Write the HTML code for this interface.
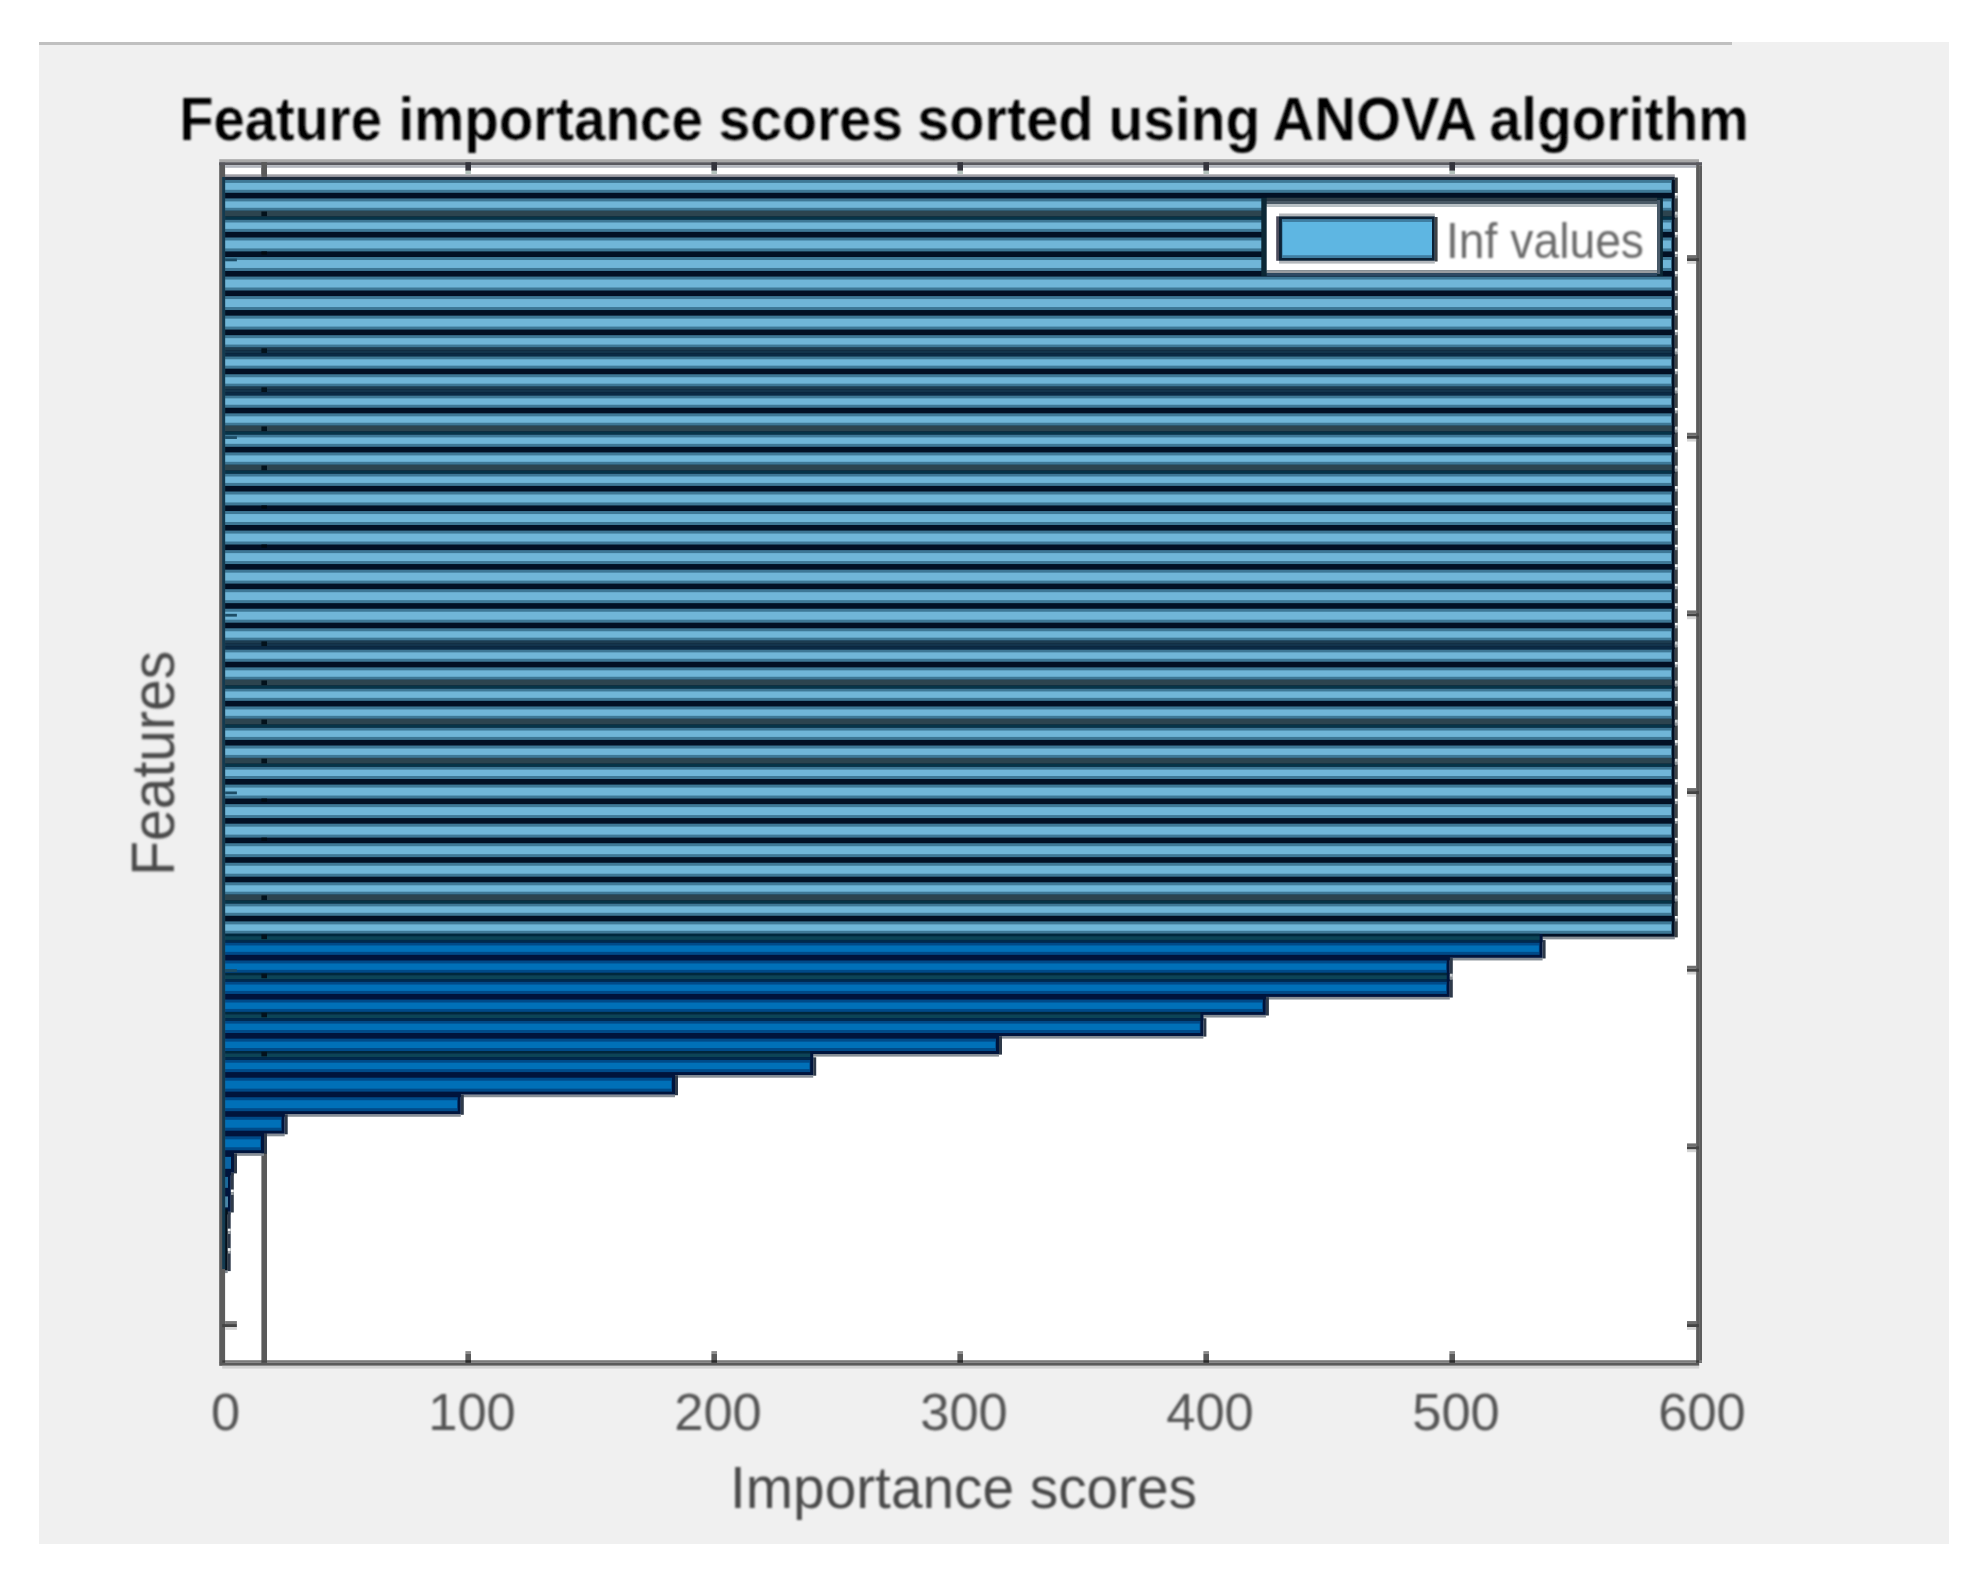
<!DOCTYPE html>
<html><head><meta charset="utf-8"><title>Feature importance</title>
<style>html,body{margin:0;padding:0;background:#fff}svg{display:block}
text{font-family:"Liberation Sans",sans-serif}</style></head><body>
<svg width="1984" height="1596" viewBox="0 0 1984 1596">
<defs>
<filter id="b" x="-2%" y="-2%" width="104%" height="104%"><feGaussianBlur stdDeviation="0.8"/></filter>
<filter id="t" x="-5%" y="-20%" width="110%" height="140%"><feGaussianBlur stdDeviation="0.8"/></filter>
</defs>
<rect x="0" y="0" width="1984" height="1596" fill="#ffffff"/>
<rect x="39" y="42" width="1910" height="1502" fill="#f0f0f0"/>
<rect x="39" y="42" width="1693" height="3" fill="#c0c0c0"/>
<g id="plot">
<rect x="222.00" y="162.50" width="1477.00" height="1200.50" fill="#ffffff"/>
<rect x="261.40" y="162.50" width="5.60" height="1200.50" fill="#5a5a5a"/>
</g>
<g id="bars">
<rect x="1673.80" y="195.80" width="1.00" height="2.60" fill="#868e96"/>
<rect x="222.00" y="174.30" width="1452.80" height="2.80" fill="#a0a0a6"/>
<rect x="1674.80" y="177.50" width="3.00" height="18.90" fill="#3c4246"/>
<rect x="222.00" y="176.90" width="1452.80" height="18.90" fill="#1e2c3c"/>
<rect x="222.00" y="179.90" width="1452.80" height="15.90" fill="#021024"/>
<rect x="1673.80" y="213.79" width="1.00" height="2.60" fill="#868e96"/>
<rect x="1674.80" y="196.00" width="3.00" height="18.39" fill="#3c4246"/>
<rect x="222.00" y="195.40" width="1452.80" height="18.39" fill="#021024"/>
<rect x="1673.80" y="234.88" width="1.00" height="2.60" fill="#868e96"/>
<rect x="1674.80" y="217.09" width="3.00" height="18.39" fill="#3c4246"/>
<rect x="222.00" y="216.49" width="1452.80" height="18.39" fill="#021024"/>
<rect x="1673.80" y="254.42" width="1.00" height="2.60" fill="#868e96"/>
<rect x="1674.80" y="235.08" width="3.00" height="19.94" fill="#3c4246"/>
<rect x="222.00" y="234.48" width="1452.80" height="19.94" fill="#021024"/>
<rect x="1673.80" y="273.96" width="1.00" height="2.60" fill="#868e96"/>
<rect x="1674.80" y="254.62" width="3.00" height="19.94" fill="#3c4246"/>
<rect x="222.00" y="254.02" width="1452.80" height="19.94" fill="#021024"/>
<rect x="1673.80" y="293.50" width="1.00" height="2.60" fill="#868e96"/>
<rect x="1674.80" y="274.16" width="3.00" height="19.94" fill="#3c4246"/>
<rect x="222.00" y="273.56" width="1452.80" height="19.94" fill="#021024"/>
<rect x="1673.80" y="313.04" width="1.00" height="2.60" fill="#868e96"/>
<rect x="1674.80" y="293.70" width="3.00" height="19.94" fill="#3c4246"/>
<rect x="222.00" y="293.10" width="1452.80" height="19.94" fill="#021024"/>
<rect x="1673.80" y="332.58" width="1.00" height="2.60" fill="#868e96"/>
<rect x="1674.80" y="313.24" width="3.00" height="19.94" fill="#3c4246"/>
<rect x="222.00" y="312.64" width="1452.80" height="19.94" fill="#021024"/>
<rect x="1673.80" y="350.57" width="1.00" height="2.60" fill="#868e96"/>
<rect x="1674.80" y="332.78" width="3.00" height="18.39" fill="#3c4246"/>
<rect x="222.00" y="332.18" width="1452.80" height="18.39" fill="#021024"/>
<rect x="1673.80" y="371.66" width="1.00" height="2.60" fill="#868e96"/>
<rect x="1674.80" y="353.87" width="3.00" height="18.39" fill="#3c4246"/>
<rect x="222.00" y="353.27" width="1452.80" height="18.39" fill="#021024"/>
<rect x="1673.80" y="389.65" width="1.00" height="2.60" fill="#868e96"/>
<rect x="1674.80" y="371.86" width="3.00" height="18.39" fill="#3c4246"/>
<rect x="222.00" y="371.26" width="1452.80" height="18.39" fill="#021024"/>
<rect x="1673.80" y="410.74" width="1.00" height="2.60" fill="#868e96"/>
<rect x="1674.80" y="392.95" width="3.00" height="18.39" fill="#3c4246"/>
<rect x="222.00" y="392.35" width="1452.80" height="18.39" fill="#021024"/>
<rect x="1673.80" y="428.73" width="1.00" height="2.60" fill="#868e96"/>
<rect x="1674.80" y="410.94" width="3.00" height="18.39" fill="#3c4246"/>
<rect x="222.00" y="410.34" width="1452.80" height="18.39" fill="#021024"/>
<rect x="1673.80" y="449.82" width="1.00" height="2.60" fill="#868e96"/>
<rect x="1674.80" y="432.03" width="3.00" height="18.39" fill="#3c4246"/>
<rect x="222.00" y="431.43" width="1452.80" height="18.39" fill="#021024"/>
<rect x="1673.80" y="467.81" width="1.00" height="2.60" fill="#868e96"/>
<rect x="1674.80" y="450.02" width="3.00" height="18.39" fill="#3c4246"/>
<rect x="222.00" y="449.42" width="1452.80" height="18.39" fill="#021024"/>
<rect x="1673.80" y="488.90" width="1.00" height="2.60" fill="#868e96"/>
<rect x="1674.80" y="471.11" width="3.00" height="18.39" fill="#3c4246"/>
<rect x="222.00" y="470.51" width="1452.80" height="18.39" fill="#021024"/>
<rect x="1673.80" y="508.44" width="1.00" height="2.60" fill="#868e96"/>
<rect x="1674.80" y="489.10" width="3.00" height="19.94" fill="#3c4246"/>
<rect x="222.00" y="488.50" width="1452.80" height="19.94" fill="#021024"/>
<rect x="1673.80" y="527.98" width="1.00" height="2.60" fill="#868e96"/>
<rect x="1674.80" y="508.64" width="3.00" height="19.94" fill="#3c4246"/>
<rect x="222.00" y="508.04" width="1452.80" height="19.94" fill="#021024"/>
<rect x="1673.80" y="547.52" width="1.00" height="2.60" fill="#868e96"/>
<rect x="1674.80" y="528.18" width="3.00" height="19.94" fill="#3c4246"/>
<rect x="222.00" y="527.58" width="1452.80" height="19.94" fill="#021024"/>
<rect x="1673.80" y="567.06" width="1.00" height="2.60" fill="#868e96"/>
<rect x="1674.80" y="547.72" width="3.00" height="19.94" fill="#3c4246"/>
<rect x="222.00" y="547.12" width="1452.80" height="19.94" fill="#021024"/>
<rect x="1673.80" y="586.60" width="1.00" height="2.60" fill="#868e96"/>
<rect x="1674.80" y="567.26" width="3.00" height="19.94" fill="#3c4246"/>
<rect x="222.00" y="566.66" width="1452.80" height="19.94" fill="#021024"/>
<rect x="1673.80" y="606.14" width="1.00" height="2.60" fill="#868e96"/>
<rect x="1674.80" y="586.80" width="3.00" height="19.94" fill="#3c4246"/>
<rect x="222.00" y="586.20" width="1452.80" height="19.94" fill="#021024"/>
<rect x="1673.80" y="625.68" width="1.00" height="2.60" fill="#868e96"/>
<rect x="1674.80" y="606.34" width="3.00" height="19.94" fill="#3c4246"/>
<rect x="222.00" y="605.74" width="1452.80" height="19.94" fill="#021024"/>
<rect x="1673.80" y="643.67" width="1.00" height="2.60" fill="#868e96"/>
<rect x="1674.80" y="625.88" width="3.00" height="18.39" fill="#3c4246"/>
<rect x="222.00" y="625.28" width="1452.80" height="18.39" fill="#021024"/>
<rect x="1673.80" y="664.76" width="1.00" height="2.60" fill="#868e96"/>
<rect x="1674.80" y="646.97" width="3.00" height="18.39" fill="#3c4246"/>
<rect x="222.00" y="646.37" width="1452.80" height="18.39" fill="#021024"/>
<rect x="1673.80" y="682.75" width="1.00" height="2.60" fill="#868e96"/>
<rect x="1674.80" y="664.96" width="3.00" height="18.39" fill="#3c4246"/>
<rect x="222.00" y="664.36" width="1452.80" height="18.39" fill="#021024"/>
<rect x="1673.80" y="703.84" width="1.00" height="2.60" fill="#868e96"/>
<rect x="1674.80" y="686.05" width="3.00" height="18.39" fill="#3c4246"/>
<rect x="222.00" y="685.45" width="1452.80" height="18.39" fill="#021024"/>
<rect x="1673.80" y="721.83" width="1.00" height="2.60" fill="#868e96"/>
<rect x="1674.80" y="704.04" width="3.00" height="18.39" fill="#3c4246"/>
<rect x="222.00" y="703.44" width="1452.80" height="18.39" fill="#021024"/>
<rect x="1673.80" y="742.92" width="1.00" height="2.60" fill="#868e96"/>
<rect x="1674.80" y="725.13" width="3.00" height="18.39" fill="#3c4246"/>
<rect x="222.00" y="724.53" width="1452.80" height="18.39" fill="#021024"/>
<rect x="1673.80" y="760.91" width="1.00" height="2.60" fill="#868e96"/>
<rect x="1674.80" y="743.12" width="3.00" height="18.39" fill="#3c4246"/>
<rect x="222.00" y="742.52" width="1452.80" height="18.39" fill="#021024"/>
<rect x="1673.80" y="782.00" width="1.00" height="2.60" fill="#868e96"/>
<rect x="1674.80" y="764.21" width="3.00" height="18.39" fill="#3c4246"/>
<rect x="222.00" y="763.61" width="1452.80" height="18.39" fill="#021024"/>
<rect x="1673.80" y="801.54" width="1.00" height="2.60" fill="#868e96"/>
<rect x="1674.80" y="782.20" width="3.00" height="19.94" fill="#3c4246"/>
<rect x="222.00" y="781.60" width="1452.80" height="19.94" fill="#021024"/>
<rect x="1673.80" y="821.08" width="1.00" height="2.60" fill="#868e96"/>
<rect x="1674.80" y="801.74" width="3.00" height="19.94" fill="#3c4246"/>
<rect x="222.00" y="801.14" width="1452.80" height="19.94" fill="#021024"/>
<rect x="1673.80" y="840.62" width="1.00" height="2.60" fill="#868e96"/>
<rect x="1674.80" y="821.28" width="3.00" height="19.94" fill="#3c4246"/>
<rect x="222.00" y="820.68" width="1452.80" height="19.94" fill="#021024"/>
<rect x="1673.80" y="860.16" width="1.00" height="2.60" fill="#868e96"/>
<rect x="1674.80" y="840.82" width="3.00" height="19.94" fill="#3c4246"/>
<rect x="222.00" y="840.22" width="1452.80" height="19.94" fill="#021024"/>
<rect x="1673.80" y="879.70" width="1.00" height="2.60" fill="#868e96"/>
<rect x="1674.80" y="860.36" width="3.00" height="19.94" fill="#3c4246"/>
<rect x="222.00" y="859.76" width="1452.80" height="19.94" fill="#021024"/>
<rect x="1673.80" y="897.69" width="1.00" height="2.60" fill="#868e96"/>
<rect x="1674.80" y="879.90" width="3.00" height="18.39" fill="#3c4246"/>
<rect x="222.00" y="879.30" width="1452.80" height="18.39" fill="#021024"/>
<rect x="1673.80" y="918.78" width="1.00" height="2.60" fill="#868e96"/>
<rect x="1674.80" y="900.99" width="3.00" height="18.39" fill="#3c4246"/>
<rect x="222.00" y="900.39" width="1452.80" height="18.39" fill="#021024"/>
<rect x="1541.60" y="936.77" width="133.20" height="2.60" fill="#868e96"/>
<rect x="1674.80" y="918.98" width="3.00" height="18.39" fill="#3c4246"/>
<rect x="222.00" y="918.38" width="1452.80" height="18.39" fill="#021024"/>
<rect x="1448.80" y="957.86" width="93.80" height="2.60" fill="#868e96"/>
<rect x="1542.60" y="940.07" width="3.00" height="18.39" fill="#2e3a4a"/>
<rect x="222.00" y="939.47" width="1320.60" height="18.39" fill="#00143c"/>
<rect x="1448.80" y="975.85" width="1.00" height="2.60" fill="#868e96"/>
<rect x="1449.80" y="958.06" width="3.00" height="18.39" fill="#2e3a4a"/>
<rect x="222.00" y="957.46" width="1227.80" height="18.39" fill="#00143c"/>
<rect x="1264.90" y="996.94" width="184.90" height="2.60" fill="#868e96"/>
<rect x="1449.80" y="979.15" width="3.00" height="18.39" fill="#2e3a4a"/>
<rect x="222.00" y="978.55" width="1227.80" height="18.39" fill="#00143c"/>
<rect x="1202.40" y="1014.93" width="63.50" height="2.60" fill="#868e96"/>
<rect x="1265.90" y="997.14" width="3.00" height="18.39" fill="#2e3a4a"/>
<rect x="222.00" y="996.54" width="1043.90" height="18.39" fill="#00143c"/>
<rect x="998.00" y="1036.02" width="205.40" height="2.60" fill="#868e96"/>
<rect x="1203.40" y="1018.23" width="3.00" height="18.39" fill="#2e3a4a"/>
<rect x="222.00" y="1017.63" width="981.40" height="18.39" fill="#00143c"/>
<rect x="812.20" y="1054.01" width="186.80" height="2.60" fill="#868e96"/>
<rect x="999.00" y="1036.22" width="3.00" height="18.39" fill="#2e3a4a"/>
<rect x="222.00" y="1035.62" width="777.00" height="18.39" fill="#00143c"/>
<rect x="674.00" y="1075.10" width="139.20" height="2.60" fill="#868e96"/>
<rect x="813.20" y="1057.31" width="3.00" height="18.39" fill="#2e3a4a"/>
<rect x="222.00" y="1056.71" width="591.20" height="18.39" fill="#00143c"/>
<rect x="459.80" y="1094.64" width="215.20" height="2.60" fill="#868e96"/>
<rect x="675.00" y="1075.30" width="3.00" height="19.94" fill="#2e3a4a"/>
<rect x="222.00" y="1074.70" width="453.00" height="19.94" fill="#00143c"/>
<rect x="283.70" y="1114.18" width="177.10" height="2.60" fill="#868e96"/>
<rect x="460.80" y="1094.84" width="3.00" height="19.94" fill="#2e3a4a"/>
<rect x="222.00" y="1094.24" width="238.80" height="19.94" fill="#00143c"/>
<rect x="263.00" y="1133.72" width="21.70" height="2.60" fill="#868e96"/>
<rect x="284.70" y="1114.38" width="3.00" height="19.94" fill="#2e3a4a"/>
<rect x="222.00" y="1113.78" width="62.70" height="19.94" fill="#00143c"/>
<rect x="233.00" y="1153.26" width="31.00" height="2.60" fill="#868e96"/>
<rect x="264.00" y="1133.92" width="3.00" height="19.94" fill="#2e3a4a"/>
<rect x="222.00" y="1133.32" width="42.00" height="19.94" fill="#00143c"/>
<rect x="229.80" y="1172.80" width="4.20" height="2.60" fill="#868e96"/>
<rect x="234.00" y="1153.46" width="3.00" height="19.94" fill="#2e3a4a"/>
<rect x="222.00" y="1152.86" width="12.00" height="19.94" fill="#00143c"/>
<rect x="229.80" y="1192.34" width="1.00" height="2.60" fill="#868e96"/>
<rect x="230.80" y="1173.00" width="3.00" height="19.94" fill="#2e3a4a"/>
<rect x="222.00" y="1172.40" width="8.80" height="19.94" fill="#00143c"/>
<rect x="226.70" y="1211.88" width="4.10" height="2.60" fill="#868e96"/>
<rect x="230.80" y="1192.54" width="3.00" height="19.94" fill="#2e3a4a"/>
<rect x="222.00" y="1191.94" width="8.80" height="19.94" fill="#00143c"/>
<rect x="226.70" y="1231.42" width="1.00" height="2.60" fill="#868e96"/>
<rect x="227.70" y="1212.08" width="3.00" height="19.94" fill="#2e3a4a"/>
<rect x="222.00" y="1211.48" width="5.70" height="19.94" fill="#03101c"/>
<rect x="226.70" y="1250.96" width="1.00" height="2.60" fill="#868e96"/>
<rect x="227.70" y="1231.62" width="3.00" height="19.94" fill="#2e3a4a"/>
<rect x="222.00" y="1231.02" width="5.70" height="19.94" fill="#03101c"/>
<rect x="225.00" y="1270.50" width="2.70" height="2.60" fill="#868e96"/>
<rect x="227.70" y="1251.16" width="3.00" height="19.94" fill="#2e3a4a"/>
<rect x="222.00" y="1250.56" width="5.70" height="19.94" fill="#03101c"/>
<rect x="222.00" y="193.10" width="1452.80" height="5.00" fill="#021024"/>
<rect x="222.00" y="211.09" width="1452.80" height="8.10" fill="#021024"/>
<rect x="222.00" y="232.18" width="1452.80" height="5.00" fill="#021024"/>
<rect x="222.00" y="251.72" width="1452.80" height="5.00" fill="#021024"/>
<rect x="222.00" y="271.26" width="1452.80" height="5.00" fill="#021024"/>
<rect x="222.00" y="290.80" width="1452.80" height="5.00" fill="#021024"/>
<rect x="222.00" y="310.34" width="1452.80" height="5.00" fill="#021024"/>
<rect x="222.00" y="329.88" width="1452.80" height="5.00" fill="#021024"/>
<rect x="222.00" y="347.87" width="1452.80" height="8.10" fill="#021024"/>
<rect x="222.00" y="368.96" width="1452.80" height="5.00" fill="#021024"/>
<rect x="222.00" y="386.95" width="1452.80" height="8.10" fill="#021024"/>
<rect x="222.00" y="408.04" width="1452.80" height="5.00" fill="#021024"/>
<rect x="222.00" y="426.03" width="1452.80" height="8.10" fill="#021024"/>
<rect x="222.00" y="447.12" width="1452.80" height="5.00" fill="#021024"/>
<rect x="222.00" y="465.11" width="1452.80" height="8.10" fill="#021024"/>
<rect x="222.00" y="486.20" width="1452.80" height="5.00" fill="#021024"/>
<rect x="222.00" y="505.74" width="1452.80" height="5.00" fill="#021024"/>
<rect x="222.00" y="525.28" width="1452.80" height="5.00" fill="#021024"/>
<rect x="222.00" y="544.82" width="1452.80" height="5.00" fill="#021024"/>
<rect x="222.00" y="564.36" width="1452.80" height="5.00" fill="#021024"/>
<rect x="222.00" y="583.90" width="1452.80" height="5.00" fill="#021024"/>
<rect x="222.00" y="603.44" width="1452.80" height="5.00" fill="#021024"/>
<rect x="222.00" y="622.98" width="1452.80" height="5.00" fill="#021024"/>
<rect x="222.00" y="640.97" width="1452.80" height="8.10" fill="#021024"/>
<rect x="222.00" y="662.06" width="1452.80" height="5.00" fill="#021024"/>
<rect x="222.00" y="680.05" width="1452.80" height="8.10" fill="#021024"/>
<rect x="222.00" y="701.14" width="1452.80" height="5.00" fill="#021024"/>
<rect x="222.00" y="719.13" width="1452.80" height="8.10" fill="#021024"/>
<rect x="222.00" y="740.22" width="1452.80" height="5.00" fill="#021024"/>
<rect x="222.00" y="758.21" width="1452.80" height="8.10" fill="#021024"/>
<rect x="222.00" y="779.30" width="1452.80" height="5.00" fill="#021024"/>
<rect x="222.00" y="798.84" width="1452.80" height="5.00" fill="#021024"/>
<rect x="222.00" y="818.38" width="1452.80" height="5.00" fill="#021024"/>
<rect x="222.00" y="837.92" width="1452.80" height="5.00" fill="#021024"/>
<rect x="222.00" y="857.46" width="1452.80" height="5.00" fill="#021024"/>
<rect x="222.00" y="877.00" width="1452.80" height="5.00" fill="#021024"/>
<rect x="222.00" y="894.99" width="1452.80" height="8.10" fill="#021024"/>
<rect x="222.00" y="916.08" width="1452.80" height="5.00" fill="#021024"/>
<rect x="222.00" y="934.07" width="1320.60" height="8.10" fill="#00143c"/>
<rect x="222.00" y="955.16" width="1227.80" height="5.00" fill="#00143c"/>
<rect x="222.00" y="973.15" width="1227.80" height="8.10" fill="#00143c"/>
<rect x="222.00" y="994.24" width="1043.90" height="5.00" fill="#00143c"/>
<rect x="222.00" y="1012.23" width="981.40" height="8.10" fill="#00143c"/>
<rect x="222.00" y="1033.32" width="777.00" height="5.00" fill="#00143c"/>
<rect x="222.00" y="1051.31" width="591.20" height="8.10" fill="#00143c"/>
<rect x="222.00" y="1072.40" width="453.00" height="5.00" fill="#00143c"/>
<rect x="222.00" y="1091.94" width="238.80" height="5.00" fill="#00143c"/>
<rect x="222.00" y="1111.48" width="62.70" height="5.00" fill="#00143c"/>
<rect x="222.00" y="1131.02" width="42.00" height="5.00" fill="#00143c"/>
<rect x="222.00" y="1150.56" width="12.00" height="5.00" fill="#00143c"/>
<rect x="222.00" y="1170.10" width="8.80" height="5.00" fill="#00143c"/>
<rect x="222.00" y="1189.64" width="8.80" height="5.00" fill="#00143c"/>
<rect x="222.00" y="1209.18" width="5.70" height="5.00" fill="#03101c"/>
<rect x="222.00" y="1228.72" width="5.70" height="5.00" fill="#03101c"/>
<rect x="222.00" y="1248.26" width="5.70" height="5.00" fill="#03101c"/>
<rect x="224.80" y="179.90" width="1447.00" height="12.90" fill="#3e7896"/>
<rect x="224.80" y="182.90" width="1446.20" height="6.90" fill="#70b6d8"/>
<rect x="224.80" y="198.40" width="1447.00" height="12.39" fill="#3e7896"/>
<rect x="224.80" y="201.40" width="1446.20" height="6.39" fill="#70b6d8"/>
<rect x="224.80" y="219.49" width="1447.00" height="12.39" fill="#3e7896"/>
<rect x="224.80" y="222.49" width="1446.20" height="6.39" fill="#70b6d8"/>
<rect x="224.80" y="237.48" width="1447.00" height="13.94" fill="#3e7896"/>
<rect x="224.80" y="240.48" width="1446.20" height="7.94" fill="#70b6d8"/>
<rect x="224.80" y="257.02" width="1447.00" height="13.94" fill="#3e7896"/>
<rect x="224.80" y="260.02" width="1446.20" height="7.94" fill="#70b6d8"/>
<rect x="224.80" y="276.56" width="1447.00" height="13.94" fill="#3e7896"/>
<rect x="224.80" y="279.56" width="1446.20" height="7.94" fill="#70b6d8"/>
<rect x="224.80" y="296.10" width="1447.00" height="13.94" fill="#3e7896"/>
<rect x="224.80" y="299.10" width="1446.20" height="7.94" fill="#70b6d8"/>
<rect x="224.80" y="315.64" width="1447.00" height="13.94" fill="#3e7896"/>
<rect x="224.80" y="318.64" width="1446.20" height="7.94" fill="#70b6d8"/>
<rect x="224.80" y="335.18" width="1447.00" height="12.39" fill="#3e7896"/>
<rect x="224.80" y="338.18" width="1446.20" height="6.39" fill="#70b6d8"/>
<rect x="224.80" y="356.27" width="1447.00" height="12.39" fill="#3e7896"/>
<rect x="224.80" y="359.27" width="1446.20" height="6.39" fill="#70b6d8"/>
<rect x="224.80" y="374.26" width="1447.00" height="12.39" fill="#3e7896"/>
<rect x="224.80" y="377.26" width="1446.20" height="6.39" fill="#70b6d8"/>
<rect x="224.80" y="395.35" width="1447.00" height="12.39" fill="#3e7896"/>
<rect x="224.80" y="398.35" width="1446.20" height="6.39" fill="#70b6d8"/>
<rect x="224.80" y="413.34" width="1447.00" height="12.39" fill="#3e7896"/>
<rect x="224.80" y="416.34" width="1446.20" height="6.39" fill="#70b6d8"/>
<rect x="224.80" y="434.43" width="1447.00" height="12.39" fill="#3e7896"/>
<rect x="224.80" y="437.43" width="1446.20" height="6.39" fill="#70b6d8"/>
<rect x="224.80" y="452.42" width="1447.00" height="12.39" fill="#3e7896"/>
<rect x="224.80" y="455.42" width="1446.20" height="6.39" fill="#70b6d8"/>
<rect x="224.80" y="473.51" width="1447.00" height="12.39" fill="#3e7896"/>
<rect x="224.80" y="476.51" width="1446.20" height="6.39" fill="#70b6d8"/>
<rect x="224.80" y="491.50" width="1447.00" height="13.94" fill="#3e7896"/>
<rect x="224.80" y="494.50" width="1446.20" height="7.94" fill="#70b6d8"/>
<rect x="224.80" y="511.04" width="1447.00" height="13.94" fill="#3e7896"/>
<rect x="224.80" y="514.04" width="1446.20" height="7.94" fill="#70b6d8"/>
<rect x="224.80" y="530.58" width="1447.00" height="13.94" fill="#3e7896"/>
<rect x="224.80" y="533.58" width="1446.20" height="7.94" fill="#70b6d8"/>
<rect x="224.80" y="550.12" width="1447.00" height="13.94" fill="#3e7896"/>
<rect x="224.80" y="553.12" width="1446.20" height="7.94" fill="#70b6d8"/>
<rect x="224.80" y="569.66" width="1447.00" height="13.94" fill="#3e7896"/>
<rect x="224.80" y="572.66" width="1446.20" height="7.94" fill="#70b6d8"/>
<rect x="224.80" y="589.20" width="1447.00" height="13.94" fill="#3e7896"/>
<rect x="224.80" y="592.20" width="1446.20" height="7.94" fill="#70b6d8"/>
<rect x="224.80" y="608.74" width="1447.00" height="13.94" fill="#3e7896"/>
<rect x="224.80" y="611.74" width="1446.20" height="7.94" fill="#70b6d8"/>
<rect x="224.80" y="628.28" width="1447.00" height="12.39" fill="#3e7896"/>
<rect x="224.80" y="631.28" width="1446.20" height="6.39" fill="#70b6d8"/>
<rect x="224.80" y="649.37" width="1447.00" height="12.39" fill="#3e7896"/>
<rect x="224.80" y="652.37" width="1446.20" height="6.39" fill="#70b6d8"/>
<rect x="224.80" y="667.36" width="1447.00" height="12.39" fill="#3e7896"/>
<rect x="224.80" y="670.36" width="1446.20" height="6.39" fill="#70b6d8"/>
<rect x="224.80" y="688.45" width="1447.00" height="12.39" fill="#3e7896"/>
<rect x="224.80" y="691.45" width="1446.20" height="6.39" fill="#70b6d8"/>
<rect x="224.80" y="706.44" width="1447.00" height="12.39" fill="#3e7896"/>
<rect x="224.80" y="709.44" width="1446.20" height="6.39" fill="#70b6d8"/>
<rect x="224.80" y="727.53" width="1447.00" height="12.39" fill="#3e7896"/>
<rect x="224.80" y="730.53" width="1446.20" height="6.39" fill="#70b6d8"/>
<rect x="224.80" y="745.52" width="1447.00" height="12.39" fill="#3e7896"/>
<rect x="224.80" y="748.52" width="1446.20" height="6.39" fill="#70b6d8"/>
<rect x="224.80" y="766.61" width="1447.00" height="12.39" fill="#3e7896"/>
<rect x="224.80" y="769.61" width="1446.20" height="6.39" fill="#70b6d8"/>
<rect x="224.80" y="784.60" width="1447.00" height="13.94" fill="#3e7896"/>
<rect x="224.80" y="787.60" width="1446.20" height="7.94" fill="#70b6d8"/>
<rect x="224.80" y="804.14" width="1447.00" height="13.94" fill="#3e7896"/>
<rect x="224.80" y="807.14" width="1446.20" height="7.94" fill="#70b6d8"/>
<rect x="224.80" y="823.68" width="1447.00" height="13.94" fill="#3e7896"/>
<rect x="224.80" y="826.68" width="1446.20" height="7.94" fill="#70b6d8"/>
<rect x="224.80" y="843.22" width="1447.00" height="13.94" fill="#3e7896"/>
<rect x="224.80" y="846.22" width="1446.20" height="7.94" fill="#70b6d8"/>
<rect x="224.80" y="862.76" width="1447.00" height="13.94" fill="#3e7896"/>
<rect x="224.80" y="865.76" width="1446.20" height="7.94" fill="#70b6d8"/>
<rect x="224.80" y="882.30" width="1447.00" height="12.39" fill="#3e7896"/>
<rect x="224.80" y="885.30" width="1446.20" height="6.39" fill="#70b6d8"/>
<rect x="224.80" y="903.39" width="1447.00" height="12.39" fill="#3e7896"/>
<rect x="224.80" y="906.39" width="1446.20" height="6.39" fill="#70b6d8"/>
<rect x="224.80" y="921.38" width="1447.00" height="12.39" fill="#3e7896"/>
<rect x="224.80" y="924.38" width="1446.20" height="6.39" fill="#70b6d8"/>
<rect x="224.80" y="942.47" width="1314.80" height="12.39" fill="#004a88"/>
<rect x="224.80" y="945.47" width="1314.00" height="6.39" fill="#0070b8"/>
<rect x="224.80" y="960.46" width="1222.00" height="12.39" fill="#004a88"/>
<rect x="224.80" y="963.46" width="1221.20" height="6.39" fill="#0070b8"/>
<rect x="224.80" y="981.55" width="1222.00" height="12.39" fill="#004a88"/>
<rect x="224.80" y="984.55" width="1221.20" height="6.39" fill="#0070b8"/>
<rect x="224.80" y="999.54" width="1038.10" height="12.39" fill="#004a88"/>
<rect x="224.80" y="1002.54" width="1037.30" height="6.39" fill="#0070b8"/>
<rect x="224.80" y="1020.63" width="975.60" height="12.39" fill="#004a88"/>
<rect x="224.80" y="1023.63" width="974.80" height="6.39" fill="#0070b8"/>
<rect x="224.80" y="1038.62" width="771.20" height="12.39" fill="#004a88"/>
<rect x="224.80" y="1041.62" width="770.40" height="6.39" fill="#0070b8"/>
<rect x="224.80" y="1059.71" width="585.40" height="12.39" fill="#004a88"/>
<rect x="224.80" y="1062.71" width="584.60" height="6.39" fill="#0070b8"/>
<rect x="224.80" y="1077.70" width="447.20" height="13.94" fill="#004a88"/>
<rect x="224.80" y="1080.70" width="446.40" height="7.94" fill="#0070b8"/>
<rect x="224.80" y="1097.24" width="233.00" height="13.94" fill="#004a88"/>
<rect x="224.80" y="1100.24" width="232.20" height="7.94" fill="#0070b8"/>
<rect x="224.80" y="1116.78" width="56.90" height="13.94" fill="#004a88"/>
<rect x="224.80" y="1119.78" width="56.10" height="7.94" fill="#0070b8"/>
<rect x="224.80" y="1136.32" width="36.20" height="13.94" fill="#004a88"/>
<rect x="224.80" y="1139.32" width="35.40" height="7.94" fill="#0070b8"/>
<rect x="225.00" y="1156.86" width="6.00" height="11.94" fill="#0a64a4"/>
<rect x="225.00" y="1176.90" width="3.00" height="10.94" fill="#1c6a9c"/>
<rect x="225.00" y="1196.44" width="3.00" height="10.94" fill="#4a86a8"/>
<rect x="224.80" y="210.79" width="1447.00" height="5.80" fill="#2c444f"/>
<rect x="224.80" y="216.59" width="1447.00" height="2.90" fill="#063448"/>
<rect x="261.40" y="211.54" width="5.60" height="4.60" fill="#03121c"/>
<rect x="224.80" y="425.73" width="1447.00" height="5.80" fill="#2c444f"/>
<rect x="224.80" y="431.53" width="1447.00" height="2.90" fill="#063448"/>
<rect x="261.40" y="426.48" width="5.60" height="4.60" fill="#03121c"/>
<rect x="224.80" y="464.81" width="1447.00" height="5.80" fill="#2c444f"/>
<rect x="224.80" y="470.61" width="1447.00" height="2.90" fill="#063448"/>
<rect x="261.40" y="465.56" width="5.60" height="4.60" fill="#03121c"/>
<rect x="224.80" y="679.75" width="1447.00" height="5.80" fill="#2c444f"/>
<rect x="224.80" y="685.55" width="1447.00" height="2.90" fill="#063448"/>
<rect x="261.40" y="680.50" width="5.60" height="4.60" fill="#03121c"/>
<rect x="224.80" y="718.83" width="1447.00" height="5.80" fill="#2c444f"/>
<rect x="224.80" y="724.63" width="1447.00" height="2.90" fill="#063448"/>
<rect x="261.40" y="719.58" width="5.60" height="4.60" fill="#03121c"/>
<rect x="224.80" y="757.91" width="1447.00" height="5.80" fill="#2c444f"/>
<rect x="224.80" y="763.71" width="1447.00" height="2.90" fill="#063448"/>
<rect x="261.40" y="758.66" width="5.60" height="4.60" fill="#03121c"/>
<rect x="224.80" y="894.69" width="1447.00" height="5.80" fill="#2c444f"/>
<rect x="224.80" y="900.49" width="1447.00" height="2.90" fill="#063448"/>
<rect x="261.40" y="895.44" width="5.60" height="4.60" fill="#03121c"/>
<rect x="224.80" y="347.57" width="1447.00" height="3.00" fill="#1c3c50"/>
<rect x="224.80" y="350.57" width="1447.00" height="3.00" fill="#13344c"/>
<rect x="224.80" y="353.57" width="1447.00" height="2.70" fill="#0a2a45"/>
<rect x="261.40" y="348.32" width="5.60" height="4.60" fill="#03121c"/>
<rect x="224.80" y="386.65" width="1447.00" height="3.00" fill="#1c3c50"/>
<rect x="224.80" y="389.65" width="1447.00" height="3.00" fill="#13344c"/>
<rect x="224.80" y="392.65" width="1447.00" height="2.70" fill="#0a2a45"/>
<rect x="261.40" y="387.40" width="5.60" height="4.60" fill="#03121c"/>
<rect x="224.80" y="640.67" width="1447.00" height="3.00" fill="#1c3c50"/>
<rect x="224.80" y="643.67" width="1447.00" height="3.00" fill="#13344c"/>
<rect x="224.80" y="646.67" width="1447.00" height="2.70" fill="#0a2a45"/>
<rect x="261.40" y="641.42" width="5.60" height="4.60" fill="#03121c"/>
<rect x="224.80" y="933.77" width="1314.80" height="2.40" fill="#00283c"/>
<rect x="224.80" y="936.17" width="1314.80" height="3.80" fill="#0c4456"/>
<rect x="224.80" y="939.97" width="1314.80" height="2.50" fill="#002a4c"/>
<rect x="261.40" y="934.52" width="5.60" height="4.60" fill="#03121c"/>
<rect x="224.80" y="972.85" width="1222.00" height="2.40" fill="#00283c"/>
<rect x="224.80" y="975.25" width="1222.00" height="3.80" fill="#0c4456"/>
<rect x="224.80" y="979.05" width="1222.00" height="2.50" fill="#002a4c"/>
<rect x="261.40" y="973.60" width="5.60" height="4.60" fill="#03121c"/>
<rect x="224.80" y="1011.93" width="975.60" height="2.40" fill="#00283c"/>
<rect x="224.80" y="1014.33" width="975.60" height="3.80" fill="#0c4456"/>
<rect x="224.80" y="1018.13" width="975.60" height="2.50" fill="#002a4c"/>
<rect x="261.40" y="1012.68" width="5.60" height="4.60" fill="#03121c"/>
<rect x="224.80" y="1051.01" width="585.40" height="2.40" fill="#00283c"/>
<rect x="224.80" y="1053.41" width="585.40" height="3.80" fill="#0c4456"/>
<rect x="224.80" y="1057.21" width="585.40" height="2.50" fill="#002a4c"/>
<rect x="261.40" y="1051.76" width="5.60" height="4.60" fill="#03121c"/>
<rect x="261.40" y="251.42" width="5.60" height="3.20" fill="#000810"/>
<rect x="261.40" y="505.44" width="5.60" height="3.20" fill="#000810"/>
<rect x="261.40" y="544.52" width="5.60" height="3.20" fill="#000810"/>
<rect x="261.40" y="798.54" width="5.60" height="3.20" fill="#000810"/>
<rect x="261.40" y="837.62" width="5.60" height="3.20" fill="#000810"/>
<rect x="1674.80" y="193.00" width="3.00" height="2.80" fill="#f4f6f6"/>
<rect x="1674.80" y="195.80" width="3.00" height="2.60" fill="#9aa0a4"/>
<rect x="1674.80" y="211.64" width="3.00" height="3.00" fill="#c8ccce"/>
<rect x="1674.80" y="214.64" width="3.00" height="3.00" fill="#8a9094"/>
<rect x="1674.80" y="232.08" width="3.00" height="2.80" fill="#f4f6f6"/>
<rect x="1674.80" y="234.88" width="3.00" height="2.60" fill="#9aa0a4"/>
<rect x="1674.80" y="251.62" width="3.00" height="2.80" fill="#f4f6f6"/>
<rect x="1674.80" y="254.42" width="3.00" height="2.60" fill="#9aa0a4"/>
<rect x="1674.80" y="271.16" width="3.00" height="2.80" fill="#f4f6f6"/>
<rect x="1674.80" y="273.96" width="3.00" height="2.60" fill="#9aa0a4"/>
<rect x="1674.80" y="290.70" width="3.00" height="2.80" fill="#f4f6f6"/>
<rect x="1674.80" y="293.50" width="3.00" height="2.60" fill="#9aa0a4"/>
<rect x="1674.80" y="310.24" width="3.00" height="2.80" fill="#f4f6f6"/>
<rect x="1674.80" y="313.04" width="3.00" height="2.60" fill="#9aa0a4"/>
<rect x="1674.80" y="329.78" width="3.00" height="2.80" fill="#f4f6f6"/>
<rect x="1674.80" y="332.58" width="3.00" height="2.60" fill="#9aa0a4"/>
<rect x="1674.80" y="348.42" width="3.00" height="3.00" fill="#c8ccce"/>
<rect x="1674.80" y="351.42" width="3.00" height="3.00" fill="#8a9094"/>
<rect x="1674.80" y="368.86" width="3.00" height="2.80" fill="#f4f6f6"/>
<rect x="1674.80" y="371.66" width="3.00" height="2.60" fill="#9aa0a4"/>
<rect x="1674.80" y="387.50" width="3.00" height="3.00" fill="#c8ccce"/>
<rect x="1674.80" y="390.50" width="3.00" height="3.00" fill="#8a9094"/>
<rect x="1674.80" y="407.94" width="3.00" height="2.80" fill="#f4f6f6"/>
<rect x="1674.80" y="410.74" width="3.00" height="2.60" fill="#9aa0a4"/>
<rect x="1674.80" y="426.58" width="3.00" height="3.00" fill="#c8ccce"/>
<rect x="1674.80" y="429.58" width="3.00" height="3.00" fill="#8a9094"/>
<rect x="1674.80" y="447.02" width="3.00" height="2.80" fill="#f4f6f6"/>
<rect x="1674.80" y="449.82" width="3.00" height="2.60" fill="#9aa0a4"/>
<rect x="1674.80" y="465.66" width="3.00" height="3.00" fill="#c8ccce"/>
<rect x="1674.80" y="468.66" width="3.00" height="3.00" fill="#8a9094"/>
<rect x="1674.80" y="486.10" width="3.00" height="2.80" fill="#f4f6f6"/>
<rect x="1674.80" y="488.90" width="3.00" height="2.60" fill="#9aa0a4"/>
<rect x="1674.80" y="505.64" width="3.00" height="2.80" fill="#f4f6f6"/>
<rect x="1674.80" y="508.44" width="3.00" height="2.60" fill="#9aa0a4"/>
<rect x="1674.80" y="525.18" width="3.00" height="2.80" fill="#f4f6f6"/>
<rect x="1674.80" y="527.98" width="3.00" height="2.60" fill="#9aa0a4"/>
<rect x="1674.80" y="544.72" width="3.00" height="2.80" fill="#f4f6f6"/>
<rect x="1674.80" y="547.52" width="3.00" height="2.60" fill="#9aa0a4"/>
<rect x="1674.80" y="564.26" width="3.00" height="2.80" fill="#f4f6f6"/>
<rect x="1674.80" y="567.06" width="3.00" height="2.60" fill="#9aa0a4"/>
<rect x="1674.80" y="583.80" width="3.00" height="2.80" fill="#f4f6f6"/>
<rect x="1674.80" y="586.60" width="3.00" height="2.60" fill="#9aa0a4"/>
<rect x="1674.80" y="603.34" width="3.00" height="2.80" fill="#f4f6f6"/>
<rect x="1674.80" y="606.14" width="3.00" height="2.60" fill="#9aa0a4"/>
<rect x="1674.80" y="622.88" width="3.00" height="2.80" fill="#f4f6f6"/>
<rect x="1674.80" y="625.68" width="3.00" height="2.60" fill="#9aa0a4"/>
<rect x="1674.80" y="641.52" width="3.00" height="3.00" fill="#c8ccce"/>
<rect x="1674.80" y="644.52" width="3.00" height="3.00" fill="#8a9094"/>
<rect x="1674.80" y="661.96" width="3.00" height="2.80" fill="#f4f6f6"/>
<rect x="1674.80" y="664.76" width="3.00" height="2.60" fill="#9aa0a4"/>
<rect x="1674.80" y="680.60" width="3.00" height="3.00" fill="#c8ccce"/>
<rect x="1674.80" y="683.60" width="3.00" height="3.00" fill="#8a9094"/>
<rect x="1674.80" y="701.04" width="3.00" height="2.80" fill="#f4f6f6"/>
<rect x="1674.80" y="703.84" width="3.00" height="2.60" fill="#9aa0a4"/>
<rect x="1674.80" y="719.68" width="3.00" height="3.00" fill="#c8ccce"/>
<rect x="1674.80" y="722.68" width="3.00" height="3.00" fill="#8a9094"/>
<rect x="1674.80" y="740.12" width="3.00" height="2.80" fill="#f4f6f6"/>
<rect x="1674.80" y="742.92" width="3.00" height="2.60" fill="#9aa0a4"/>
<rect x="1674.80" y="758.76" width="3.00" height="3.00" fill="#c8ccce"/>
<rect x="1674.80" y="761.76" width="3.00" height="3.00" fill="#8a9094"/>
<rect x="1674.80" y="779.20" width="3.00" height="2.80" fill="#f4f6f6"/>
<rect x="1674.80" y="782.00" width="3.00" height="2.60" fill="#9aa0a4"/>
<rect x="1674.80" y="798.74" width="3.00" height="2.80" fill="#f4f6f6"/>
<rect x="1674.80" y="801.54" width="3.00" height="2.60" fill="#9aa0a4"/>
<rect x="1674.80" y="818.28" width="3.00" height="2.80" fill="#f4f6f6"/>
<rect x="1674.80" y="821.08" width="3.00" height="2.60" fill="#9aa0a4"/>
<rect x="1674.80" y="837.82" width="3.00" height="2.80" fill="#f4f6f6"/>
<rect x="1674.80" y="840.62" width="3.00" height="2.60" fill="#9aa0a4"/>
<rect x="1674.80" y="857.36" width="3.00" height="2.80" fill="#f4f6f6"/>
<rect x="1674.80" y="860.16" width="3.00" height="2.60" fill="#9aa0a4"/>
<rect x="1674.80" y="876.90" width="3.00" height="2.80" fill="#f4f6f6"/>
<rect x="1674.80" y="879.70" width="3.00" height="2.60" fill="#9aa0a4"/>
<rect x="1674.80" y="895.54" width="3.00" height="3.00" fill="#c8ccce"/>
<rect x="1674.80" y="898.54" width="3.00" height="3.00" fill="#8a9094"/>
<rect x="1674.80" y="915.98" width="3.00" height="2.80" fill="#f4f6f6"/>
<rect x="1674.80" y="918.78" width="3.00" height="2.60" fill="#9aa0a4"/>
<rect x="1449.80" y="973.70" width="3.00" height="3.00" fill="#c8ccce"/>
<rect x="1449.80" y="976.70" width="3.00" height="3.00" fill="#8a9094"/>
<rect x="230.80" y="1189.54" width="3.00" height="2.80" fill="#f4f6f6"/>
<rect x="230.80" y="1192.34" width="3.00" height="2.60" fill="#9aa0a4"/>
<rect x="227.70" y="1228.62" width="3.00" height="2.80" fill="#f4f6f6"/>
<rect x="227.70" y="1231.42" width="3.00" height="2.60" fill="#9aa0a4"/>
<rect x="227.70" y="1248.16" width="3.00" height="2.80" fill="#f4f6f6"/>
<rect x="227.70" y="1250.96" width="3.00" height="2.60" fill="#9aa0a4"/>
</g>
<g id="axes">
<rect x="219.20" y="162.50" width="5.90" height="1200.50" fill="#5c5c5c"/>
<rect x="222.20" y="177.00" width="2.90" height="1092.00" fill="#123a50"/>
<rect x="1696.10" y="162.40" width="3.00" height="1200.60" fill="#5c5c5c"/>
<rect x="1699.10" y="165.20" width="2.90" height="1197.80" fill="#5c5c5c"/>
<rect x="219.20" y="159.20" width="1479.80" height="3.00" fill="#a8a8a8"/>
<rect x="219.20" y="162.20" width="1482.80" height="3.00" fill="#5a5a60"/>
<rect x="225.10" y="165.20" width="1471.00" height="2.60" fill="#b2b6be"/>
<rect x="261.40" y="162.20" width="5.60" height="14.70" fill="#5a5a5a"/>
<rect x="222.20" y="1360.20" width="1479.80" height="2.50" fill="#7a7a7a"/>
<rect x="219.20" y="1362.70" width="1480.00" height="3.10" fill="#5a5a5a"/>
<rect x="222.20" y="1365.80" width="1477.00" height="2.80" fill="#d2d2d2"/>
<rect x="261.40" y="1360.20" width="5.60" height="2.50" fill="#4a4a4a"/>
<rect x="222.20" y="1360.20" width="2.90" height="2.50" fill="#3c3c3c"/>
<rect x="1696.10" y="1360.20" width="3.00" height="2.50" fill="#3c3c3c"/>
<rect x="465.40" y="1351.10" width="5.60" height="2.70" fill="#8a8a8a"/>
<rect x="465.40" y="1353.80" width="5.60" height="6.40" fill="#5a5a5a"/>
<rect x="465.40" y="1360.10" width="5.60" height="2.70" fill="#2c2c2c"/>
<rect x="465.40" y="162.20" width="5.60" height="8.60" fill="#34343c"/>
<rect x="465.40" y="170.80" width="5.60" height="3.20" fill="#b4c2bc"/>
<rect x="711.40" y="1351.10" width="5.60" height="2.70" fill="#8a8a8a"/>
<rect x="711.40" y="1353.80" width="5.60" height="6.40" fill="#5a5a5a"/>
<rect x="711.40" y="1360.10" width="5.60" height="2.70" fill="#2c2c2c"/>
<rect x="711.40" y="162.20" width="5.60" height="8.60" fill="#34343c"/>
<rect x="711.40" y="170.80" width="5.60" height="3.20" fill="#b4c2bc"/>
<rect x="957.40" y="1351.10" width="5.60" height="2.70" fill="#8a8a8a"/>
<rect x="957.40" y="1353.80" width="5.60" height="6.40" fill="#5a5a5a"/>
<rect x="957.40" y="1360.10" width="5.60" height="2.70" fill="#2c2c2c"/>
<rect x="957.40" y="162.20" width="5.60" height="8.60" fill="#34343c"/>
<rect x="957.40" y="170.80" width="5.60" height="3.20" fill="#b4c2bc"/>
<rect x="1203.40" y="1351.10" width="5.60" height="2.70" fill="#8a8a8a"/>
<rect x="1203.40" y="1353.80" width="5.60" height="6.40" fill="#5a5a5a"/>
<rect x="1203.40" y="1360.10" width="5.60" height="2.70" fill="#2c2c2c"/>
<rect x="1203.40" y="162.20" width="5.60" height="8.60" fill="#34343c"/>
<rect x="1203.40" y="170.80" width="5.60" height="3.20" fill="#b4c2bc"/>
<rect x="1449.40" y="1351.10" width="5.60" height="2.70" fill="#8a8a8a"/>
<rect x="1449.40" y="1353.80" width="5.60" height="6.40" fill="#5a5a5a"/>
<rect x="1449.40" y="1360.10" width="5.60" height="2.70" fill="#2c2c2c"/>
<rect x="1449.40" y="162.20" width="5.60" height="8.60" fill="#34343c"/>
<rect x="1449.40" y="170.80" width="5.60" height="3.20" fill="#b4c2bc"/>
<rect x="1687.00" y="255.10" width="9.10" height="3.00" fill="#6e6e6e"/>
<rect x="1687.00" y="258.10" width="12.00" height="3.10" fill="#444444"/>
<rect x="1687.00" y="261.20" width="9.10" height="2.70" fill="#d4d4d4"/>
<rect x="225.10" y="258.50" width="11.80" height="2.80" fill="#1d4d66"/>
<rect x="1687.00" y="432.76" width="9.10" height="3.00" fill="#6e6e6e"/>
<rect x="1687.00" y="435.76" width="12.00" height="3.10" fill="#444444"/>
<rect x="1687.00" y="438.86" width="9.10" height="2.70" fill="#d4d4d4"/>
<rect x="225.10" y="436.16" width="11.80" height="2.80" fill="#1d4d66"/>
<rect x="1687.00" y="610.42" width="9.10" height="3.00" fill="#6e6e6e"/>
<rect x="1687.00" y="613.42" width="12.00" height="3.10" fill="#444444"/>
<rect x="1687.00" y="616.52" width="9.10" height="2.70" fill="#d4d4d4"/>
<rect x="225.10" y="613.82" width="11.80" height="2.80" fill="#1d4d66"/>
<rect x="1687.00" y="788.08" width="9.10" height="3.00" fill="#6e6e6e"/>
<rect x="1687.00" y="791.08" width="12.00" height="3.10" fill="#444444"/>
<rect x="1687.00" y="794.18" width="9.10" height="2.70" fill="#d4d4d4"/>
<rect x="225.10" y="791.48" width="11.80" height="2.80" fill="#1d4d66"/>
<rect x="1687.00" y="965.74" width="9.10" height="3.00" fill="#6e6e6e"/>
<rect x="1687.00" y="968.74" width="12.00" height="3.10" fill="#444444"/>
<rect x="1687.00" y="971.84" width="9.10" height="2.70" fill="#d4d4d4"/>
<rect x="225.10" y="969.14" width="11.80" height="2.80" fill="#1d4d66"/>
<rect x="1687.00" y="1143.40" width="9.10" height="3.00" fill="#6e6e6e"/>
<rect x="1687.00" y="1146.40" width="12.00" height="3.10" fill="#444444"/>
<rect x="1687.00" y="1149.50" width="9.10" height="2.70" fill="#d4d4d4"/>
<rect x="1687.00" y="1321.06" width="9.10" height="3.00" fill="#6e6e6e"/>
<rect x="1687.00" y="1324.06" width="12.00" height="3.10" fill="#444444"/>
<rect x="1687.00" y="1327.16" width="9.10" height="2.70" fill="#d4d4d4"/>
<rect x="225.10" y="1321.06" width="11.80" height="3.00" fill="#7a7a7a"/>
<rect x="222.20" y="1324.06" width="14.70" height="3.10" fill="#444444"/>
<rect x="225.10" y="1327.16" width="11.80" height="2.70" fill="#d4d4d4"/>
<rect x="1261.30" y="197.80" width="401.60" height="78.10" fill="#0c2836"/>
<rect x="1266.70" y="197.80" width="390.40" height="3.20" fill="#2c3c48"/>
<rect x="1266.70" y="201.00" width="390.40" height="3.00" fill="#4a5a66"/>
<rect x="1266.70" y="204.00" width="390.40" height="2.70" fill="#b8c0c4"/>
<rect x="1266.70" y="206.60" width="390.40" height="63.80" fill="#ffffff"/>
<rect x="1266.70" y="270.40" width="390.40" height="2.80" fill="#989ca0"/>
<rect x="1266.70" y="273.20" width="390.40" height="2.70" fill="#2e4a64"/>
<rect x="1657.10" y="200.00" width="3.00" height="74.00" fill="#4a5a6a"/>
<rect x="1279.00" y="213.50" width="155.80" height="2.80" fill="#b4b8bc"/>
<rect x="1279.00" y="260.80" width="155.80" height="2.80" fill="#b4b8bc"/>
<rect x="1276.20" y="216.30" width="2.80" height="44.50" fill="#4c4c5c"/>
<rect x="1434.80" y="217.00" width="2.80" height="44.50" fill="#404448"/>
<rect x="1279.00" y="216.30" width="155.80" height="44.50" fill="#0c2236"/>
<rect x="1281.90" y="219.10" width="150.10" height="38.90" fill="#3f7ea2"/>
<rect x="1282.60" y="222.00" width="149.40" height="33.20" fill="#5eb6e2"/>
</g>
<g filter="url(#t)">
<text class="tw" x="179.29999999999998" y="140.1" font-size="62" font-weight="bold" fill="#050505" stroke="#f0f0f0" stroke-width="0.12" textLength="202.6" lengthAdjust="spacingAndGlyphs">Feature</text>
<text class="tw" x="398.40000000000003" y="140.1" font-size="62" font-weight="bold" fill="#050505" stroke="#f0f0f0" stroke-width="0.12" textLength="304.5" lengthAdjust="spacingAndGlyphs">importance</text>
<text class="tw" x="718.4" y="140.1" font-size="62" font-weight="bold" fill="#050505" stroke="#f0f0f0" stroke-width="0.12" textLength="184.6" lengthAdjust="spacingAndGlyphs">scores</text>
<text class="tw" x="917.3000000000001" y="140.1" font-size="62" font-weight="bold" fill="#050505" stroke="#f0f0f0" stroke-width="0.12" textLength="176.1" lengthAdjust="spacingAndGlyphs">sorted</text>
<text class="tw" x="1108.3999999999999" y="140.1" font-size="62" font-weight="bold" fill="#050505" stroke="#f0f0f0" stroke-width="0.12" textLength="151.8" lengthAdjust="spacingAndGlyphs">using</text>
<text class="tw" x="1272.3999999999999" y="140.1" font-size="62" font-weight="bold" fill="#050505" stroke="#f0f0f0" stroke-width="0.12" textLength="204.7" lengthAdjust="spacingAndGlyphs">ANOVA</text>
<text class="tw" x="1489.6" y="140.1" font-size="62" font-weight="bold" fill="#050505" stroke="#f0f0f0" stroke-width="0.12" textLength="259.3" lengthAdjust="spacingAndGlyphs">algorithm</text>
<text id="xl" x="730" y="1507.5" font-size="60" fill="#484848" textLength="467" lengthAdjust="spacingAndGlyphs">Importance scores</text>
<text id="yl" transform="translate(173.9,763.3) rotate(-90)" font-size="61" text-anchor="middle" fill="#484848" textLength="225" lengthAdjust="spacingAndGlyphs">Features</text>
<text class="xt" x="225.5" y="1429.8" font-size="52.5" text-anchor="middle" fill="#545454">0</text>
<text class="xt" x="472.0" y="1429.8" font-size="52.5" text-anchor="middle" fill="#545454">100</text>
<text class="xt" x="718.0" y="1429.8" font-size="52.5" text-anchor="middle" fill="#545454">200</text>
<text class="xt" x="964.0" y="1429.8" font-size="52.5" text-anchor="middle" fill="#545454">300</text>
<text class="xt" x="1210.0" y="1429.8" font-size="52.5" text-anchor="middle" fill="#545454">400</text>
<text class="xt" x="1456.0" y="1429.8" font-size="52.5" text-anchor="middle" fill="#545454">500</text>
<text class="xt" x="1702.0" y="1429.8" font-size="52.5" text-anchor="middle" fill="#545454">600</text>
<text id="lg" x="1446" y="257.6" font-size="50" fill="#6a6a6a" textLength="198" lengthAdjust="spacingAndGlyphs">Inf values</text>
</g>
</svg></body></html>
